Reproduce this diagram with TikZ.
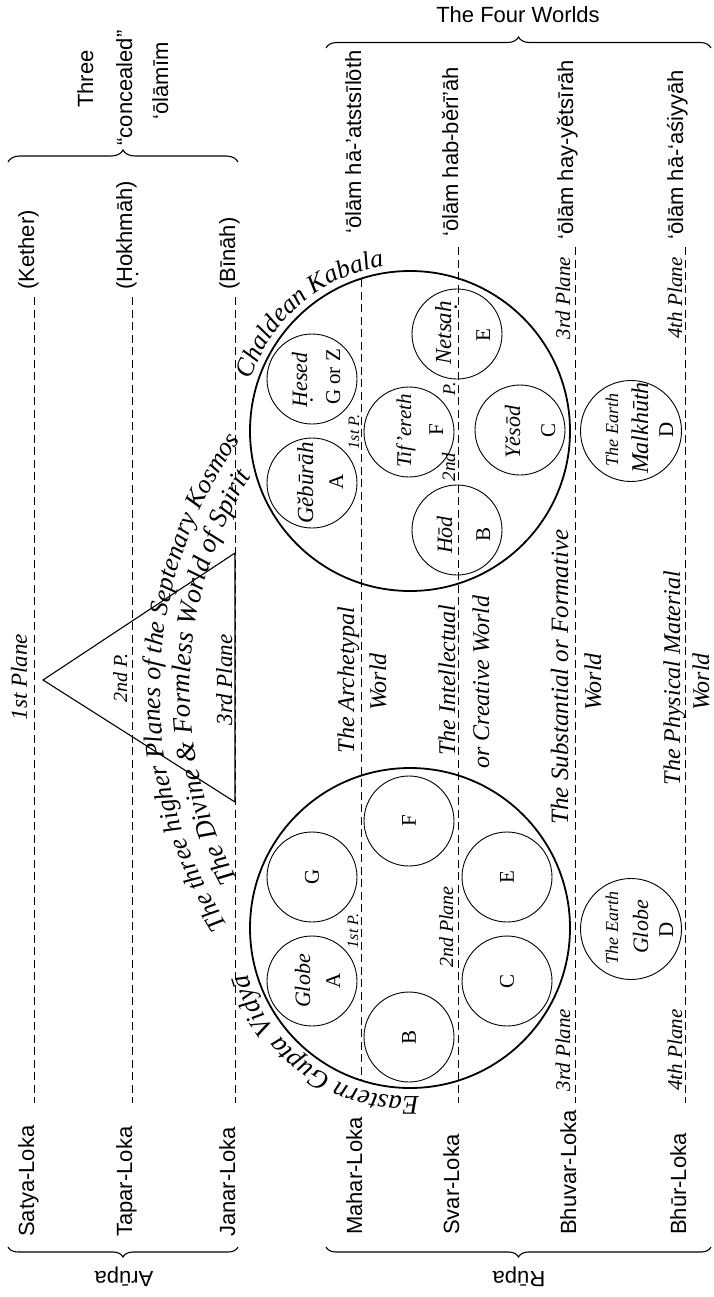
\documentclass[tikz,border=0pt]{standalone}
\usepackage{fontspec}
\setmainfont{Liberation Serif}
\newfontfamily\lsans{Liberation Sans}
\usetikzlibrary{decorations.text,decorations.pathreplacing}
\newcommand\dotH[1]{\ooalign{#1\cr\hidewidth\raisebox{-0.55ex}{.}\hidewidth\cr}}
\tikzset{
  sans/.style={font=\lsans\fontsize{22}{26}\selectfont, inner sep=0pt},
  itx/.style={font=\itshape\fontsize{#1}{#1}\selectfont, inner sep=0pt},
  rmx/.style={font=\fontsize{#1}{#1}\selectfont, inner sep=0pt},
  upb/.style={rotate=90, anchor=base},
  upw/.style={rotate=90, anchor=base west},
  grid/.style={dash pattern=on 8pt off 4.5pt, line width=0.9pt},
  bigc/.style={draw, circle, line width=1.8pt, minimum size=320pt, inner sep=0pt},
  smallc/.style={draw, circle, line width=0.9pt, minimum size=90pt, inner sep=0pt},
  earthc/.style={draw, circle, line width=0.9pt, minimum size=101pt, inner sep=0pt},
  brc/.style={decorate, decoration={brace, amplitude=#1}, line width=1.1pt},
}
\begin{document}
\begin{tikzpicture}[x=1pt,y=1pt]
\useasboundingbox (0,0) rectangle (713,-1297);

% ---------- braces and group titles
\draw[brc=12pt] (8,-162) -- (238,-162);
\draw[brc=11pt] (326,-48) -- (711,-48);
\draw[brc=10pt] (238,-1247) -- (8,-1247);
\draw[brc=10pt] (711,-1247) -- (326,-1247);
\node[sans, anchor=base] (four) at (518,-23) {The Four Worlds};
\node[sans, rotate=180, anchor=base] (arupa) at (124,-1271) {Arūpa};
\node[sans, rotate=180, anchor=base] (rupa) at (519,-1271) {Rūpa};
\node[sans, upb] (three) at (93,-79) {Three};
\node[sans, upb] (concealed) at (132,-88) {“concealed”};
\node[sans, upb] (olamim) at (168,-81) {‘ōlāmīm};

% ---------- column labels
\node[sans, upw] (kether) at (34,-290) {(Kether)};
\node[sans, upw] (hokhmah) at (132,-290) {(\dotH{H}okhmāh)};
\node[sans, upw] (binah) at (235,-290) {(Bīnāh)};
\node[sans, upw] (atsilut) at (361,-234) {‘ōlām hā-’atstsīlōth};
\node[sans, upw] (beriah) at (458,-237) {‘ōlām hab-bĕrī’āh};
\node[sans, upw] (yetsirah) at (573,-240) {‘ōlām hay-yĕtsīrāh};
\node[sans, upw] (asiyyah) at (683,-240) {‘ōlām hā-‘aśiyyāh};

\node[sans, upw] (satya) at (34,-1237) {Satya-Loka};
\node[sans, upw] (tapar) at (132,-1237) {Tapar-Loka};
\node[sans, upw] (janar) at (235,-1237) {Janar-Loka};
\node[sans, upw] (mahar) at (362,-1235) {Mahar-Loka};
\node[sans, upw] (svar) at (459,-1235) {Svar-Loka};
\node[sans, upw] (bhuvar) at (576,-1235) {Bhuvar-Loka};
\node[sans, upw] (bhur) at (686,-1235) {Bhūr-Loka};

% ---------- dashed plane lines
\draw[grid] (34,-297) -- (34,-1103);
\draw[grid] (132,-297) -- (132,-1103);
\draw[grid] (235,-297) -- (235,-1103);
\draw[grid] (361,-279) -- (361,-1080);
\draw[grid] (458,-247) -- (458,-1103);
\draw[grid] (575,-247) -- (575,-1103);
\draw[grid] (685,-247) -- (685,-1103);

% ---------- triangle
\draw[line width=1.1pt] (43,-680) -- (235,-553) -- (235,-802) -- cycle;
\node[itx=23, upb] (p1t) at (27,-677) {1st Plane};
\node[itx=20, upb] (p2t) at (127,-678) {2nd P.};
\node[itx=23, upb] (p3t) at (232,-680) {3rd Plane};

\path[decorate, decoration={text along path, text align=center,
  text={|\itshape\fontsize{26}{26}\selectfont|The three higher Planes of the Septenary Kosmos}}]
  ([shift={(214:434)}]594,-692) arc[start angle=214, end angle=143, radius=434];
\path[decorate, decoration={text along path, text align=center,
  text={|\itshape\fontsize{27}{27}\selectfont|The Divine {\&} Formless World of Spirit}}]
  ([shift={(209:402)}]592,-690) arc[start angle=209, end angle=147, radius=402];

% ---------- Chaldean Kabala
\node[bigc] (kabala) at (410,-431) {};
\path[decorate, decoration={text along path, text align=left,
  text={|\itshape\fontsize{26}{26}\selectfont|Chaldean Kabala}}]
  ([shift={(162:167)}]410,-431) arc[start angle=162, end angle=80, radius=167];
\node[smallc] (hesed) at (312,-379) {};
\node[smallc] (gebura) at (312,-483) {};
\node[smallc] (tiferet) at (409,-432) {};
\node[smallc] (netsah) at (457,-334) {};
\node[smallc] (hod) at (457,-530) {};
\node[smallc] (yesod) at (520,-430) {};
\node[earthc] (malkhut) at (631,-431) {};
\node[itx=22, upb] (thesed) at (307,-380) {\dotH{H}esed};
\node[rmx=21, upb] (tgz) at (340,-377) {G or Z};
\node[itx=23, upb] (tgebura) at (313,-483) {Gĕbūrāh};
\node[rmx=21, upb] (tA1) at (343,-482) {A};
\node[itx=21, upb] (ttif) at (411,-431) {Tif’ereth};
\node[rmx=21, upb] (tF1) at (443,-430) {F};
\node[itx=23, upb] (tnets) at (451,-333) {Netsa\dotH{h}};
\node[rmx=21, upb] (tE1) at (490,-335) {E};
\node[itx=22, upb] (thod) at (452,-535) {Hōd};
\node[rmx=21, upb] (tB1) at (490,-534) {B};
\node[itx=22, upb] (tyes) at (520,-432) {Yĕsōd};
\node[rmx=21, upb] (tC1) at (555,-430) {C};
\node[itx=18, upb] (tearth1) at (618,-430) {The Earth};
\node[itx=24, upb] (tmalk) at (648,-428) {Malkhūth};
\node[rmx=21, upb] (tD1) at (673,-430) {D};
\node[itx=16, upb] (k1p) at (359,-432) {1st P.};
\node[itx=18, upb] (k2p) at (455,-389) {P.};
\node[itx=19, upb] (k2nd) at (455,-467) {2nd};
\node[itx=21, upb] (k3p) at (570,-298) {3rd Plane};
\node[itx=21, upb] (k4p) at (682,-298) {4th Plane};

% ---------- Eastern Gupta Vidya
\node[bigc] (gupta) at (410,-928) {};
\path[decorate, decoration={text along path, text align=left,
  text={|\itshape\fontsize{27}{27}\selectfont|Eastern Gupta Vidyā}}]
  ([shift={(273:169)}]410,-928) arc[start angle=273, end angle=170, radius=169];
\node[smallc] (gG) at (312,-877) {};
\node[smallc] (gA) at (312,-981) {};
\node[smallc] (gF) at (409,-821) {};
\node[smallc] (gB) at (409,-1037) {};
\node[smallc] (gE) at (507,-877) {};
\node[smallc] (gC) at (507,-981) {};
\node[earthc] (gD) at (631,-929) {};
\node[rmx=21, rotate=90] (tG2) at (gG) {G};
\node[itx=22, upb] (tglobe) at (310,-981) {Globe};
\node[rmx=21, upb] (tA2) at (340,-981) {A};
\node[rmx=21, rotate=90] (tF2) at (gF) {F};
\node[rmx=21, rotate=90] (tB2) at (gB) {B};
\node[rmx=21, rotate=90] (tE2) at (gE) {E};
\node[rmx=21, rotate=90] (tC2) at (gC) {C};
\node[itx=18, upb] (tearth2) at (618,-928) {The Earth};
\node[itx=22, upb] (tglobe2) at (648,-927) {Globe};
\node[rmx=21, upb] (tD2) at (673,-930) {D};
\node[itx=16, upb] (e1p) at (358,-931) {1st P.};
\node[itx=20, upb] (e2p) at (453,-927) {2nd Plane};
\node[itx=21, upb] (e3p) at (570,-1050) {3rd Plane};
\node[itx=21, upb] (e4p) at (682,-1050) {4th Plane};

% ---------- the four worlds
\node[itx=24, upb] (w1a) at (354,-680) {The Archetypal};
\node[itx=24, upb] (w1b) at (386,-682) {World};
\node[itx=24, upb] (w2a) at (455,-680) {The Intellectual};
\node[itx=24, upb] (w2b) at (489,-682) {or Creative World};
\node[itx=25, upb] (w3a) at (568,-677) {The Substantial or Formative};
\node[itx=24, upb] (w3b) at (601,-682) {World};
\node[itx=24, upb] (w4a) at (680,-678) {The Physical Material};
\node[itx=24, upb] (w4b) at (709,-682) {World};
\end{tikzpicture}
\end{document}
